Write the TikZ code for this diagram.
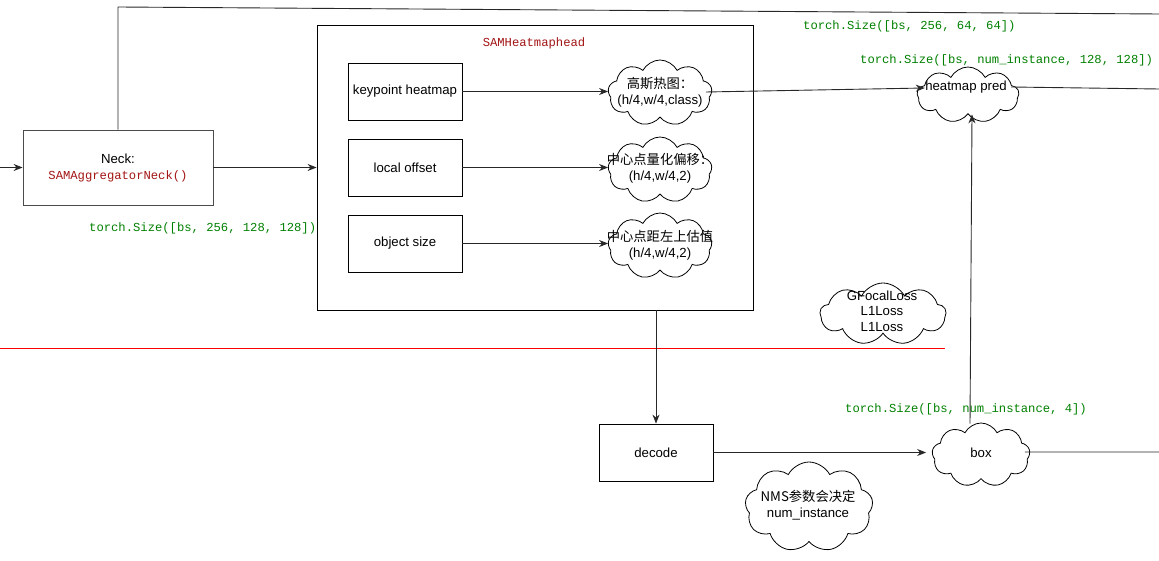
\documentclass[tikz,border=0pt]{standalone}
\usepackage{fontspec}
\setmainfont{Liberation Sans}
\setmonofont{Liberation Mono}
\newfontfamily\cjk{Noto Sans CJK SC}
\usetikzlibrary{shapes.symbols,arrows.meta}
\definecolor{codegreen}{RGB}{0,128,0}
\definecolor{codered}{RGB}{163,21,21}
\definecolor{edgegray}{RGB}{40,40,40}
\newcommand{\zh}[1]{{\cjk\fontsize{13.3}{16}\selectfont #1}}
\tikzset{
  block/.style={draw=black, line width=0.8pt, rectangle, fill=white, inner sep=0pt},
  puff/.style={draw=black, line width=0.8pt, cloud, cloud puffs=9, cloud puff arc=125, cloud ignores aspect, inner sep=0pt},
  txt/.style={font=\fontsize{13.2}{16}\selectfont, align=center, inner sep=0pt},
  code/.style={font=\ttfamily\fontsize{12.2}{14}\selectfont, text=codegreen, inner sep=0pt, anchor=west},
  link/.style={draw=edgegray, line width=0.9pt},
  arrow/.style={link, -{Stealth[length=9pt,width=7pt]}},
}
\begin{document}
\begin{tikzpicture}[x=1pt,y=-1pt]
\useasboundingbox (0,0) rectangle (1159,561);

% outer head module
\node[block, minimum width=436pt, minimum height=285pt] (head) at (535,167.5) {};
\node[font=\ttfamily\fontsize{12.2}{14}\selectfont, text=codered, inner sep=0pt] (headlbl) at (534,43) {SAMHeatmaphead};

% neck
\node[block, draw=black!70, minimum width=190pt, minimum height=75pt, txt] (neck) at (118,167.5)
  {Neck:\\[0pt]{\ttfamily\fontsize{12.2}{14}\selectfont\color{codered}SAMAggregatorNeck()}};
\coordinate (inL) at (0,167.5);
\coordinate (topbend) at (118,7);
\coordinate (topR) at (1159,14);

% branches inside the head
\node[block, minimum width=114pt, minimum height=57pt, txt] (kp) at (405,91.5) {keypoint heatmap};
\node[block, minimum width=114pt, minimum height=57pt, txt] (lo) at (405,167.5) {local offset};
\node[block, minimum width=114pt, minimum height=57pt, txt] (os) at (405,243.5) {object size};

\node[puff, minimum width=104pt, minimum height=66pt] (c1) at (660,93) {};
\node[txt] (c1t) at (660,92) {\zh{高斯热图：}\\(h/4,w/4,class)};
\node[puff, minimum width=104pt, minimum height=66pt] (c2) at (660,170) {};
\node[txt] (c2t) at (660,168.5) {\zh{中心点量化偏移：}\\(h/4,w/4,2)};
\node[puff, minimum width=104pt, minimum height=66pt] (c3) at (660,246) {};
\node[txt] (c3t) at (660,245) {\zh{中心点距左上估值}\\(h/4,w/4,2)};

% outputs
\node[puff, minimum width=102pt, minimum height=56pt] (hp) at (968,95) {};
\node[txt] (hpt) at (966,87) {heatmap pred};
\coordinate (hpR) at (1159,89);

\node[puff, minimum width=126pt, minimum height=62pt] (loss) at (883,314) {};
\node[txt, font=\fontsize{13.2}{15.5}\selectfont] (losst) at (882,311) {GFocalLoss\\L1Loss\\L1Loss};

\node[block, minimum width=114pt, minimum height=57pt, txt] (dec) at (656,452.5) {decode};
\node[puff, minimum width=98pt, minimum height=64pt] (bx) at (981,455) {};
\node[txt] (bxt) at (981,453) {box};
\coordinate (bxR) at (1159,452);

\node[puff, minimum width=128pt, minimum height=90pt] (nms) at (809,507) {};
\node[txt] (nmst) at (808,505) {\zh{NMS参数会决定}\\num\_instance};

% separator
\coordinate (sepL) at (0,348);
\coordinate (sepR) at (945,348);
\draw[red, line width=0.8pt] (sepL) -- (sepR);

% shape annotations
\node[code] (s1) at (89,228) {torch.Size([bs, 256, 128, 128])};
\node[code] (s2) at (803,26) {torch.Size([bs, 256, 64, 64])};
\node[code] (s3) at (860,60) {torch.Size([bs, num\_instance, 128, 128])};
\node[code] (s4) at (845,409) {torch.Size([bs, num\_instance, 4])};

% connectors
\draw[arrow] (inL) -- (neck.west);
\draw[arrow] (neck.east) -- (head.west |- neck.east);
\draw[link] (neck.north) -- (topbend) -- (topR);
\draw[arrow] (kp.east) -- (c1.west |- kp.east);
\draw[arrow] (lo.east) -- (c2.west |- lo.east);
\draw[arrow] (os.east) -- (c3.west |- os.east);
\draw[arrow] ([xshift=-6pt,yshift=1pt]c1.east) -- ([xshift=8pt,yshift=7pt]hp.west);
\draw[link] ([xshift=-8pt,yshift=8pt]hp.east) -- (hpR);
\draw[arrow] (head.south -| dec.north) -- (dec.north);
\draw[arrow] (dec.east) -- ([xshift=-6pt]bx.west |- dec.east);
\draw[link] ([xshift=-5pt,yshift=3pt]bx.east) -- (bxR);
\draw[arrow] ([xshift=-11pt,yshift=-1pt]bx.north) -- ([xshift=4pt]hp.south);
\end{tikzpicture}
\end{document}
